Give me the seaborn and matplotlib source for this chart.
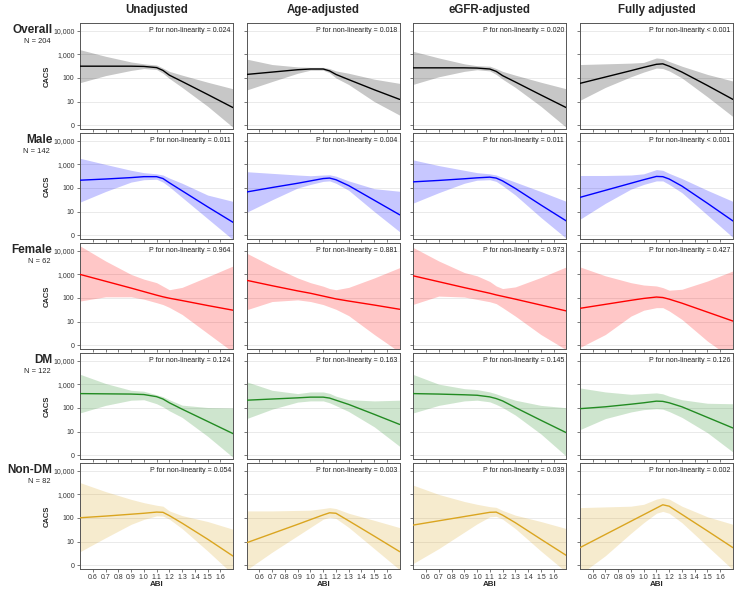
import matplotlib
matplotlib.use("Agg")
import matplotlib.pyplot as plt
import numpy as np
import seaborn as sns

# ABI grid the curves were read at
ABI = [0.5, 0.7, 0.9, 1.0, 1.1, 1.15, 1.2, 1.3, 1.5, 1.7]

MODELS = ["Unadjusted", "Age-adjusted", "eGFR-adjusted", "Fully adjusted"]
GROUPS = ["Overall", "Male", "Female", "DM", "Non-DM"]
GROUP_N = [204, 142, 62, 122, 82]
GROUP_COLORS = ["#000000", "#0000FF", "#FF0000", "#228B22", "#DAA520"]

P_TEXT = [
    ["= 0.024", "= 0.018", "= 0.020", "< 0.001"],
    ["= 0.011", "= 0.004", "= 0.011", "< 0.001"],
    ["= 0.964", "= 0.881", "= 0.973", "= 0.427"],
    ["= 0.124", "= 0.163", "= 0.145", "= 0.126"],
    ["= 0.054", "= 0.003", "= 0.039", "= 0.002"],
]

# y in log10 units of CACS (0 -> "0", 1 -> "10", ...)
Y_TICKS = [0, 1, 2, 3, 4]
Y_LABELS = ["0", "10", "100", "1,000", "10,000"]
X_TICKS = [0.6, 0.7, 0.8, 0.9, 1.0, 1.1, 1.2, 1.3, 1.4, 1.5, 1.6]

# one list per model column: Unadjusted, Age, eGFR, Fully
OVERALL_FIT = [
    [2.50, 2.50, 2.50, 2.49, 2.44, 2.32, 2.12, 1.85, 1.30, 0.74],
    [2.15, 2.25, 2.35, 2.38, 2.38, 2.30, 2.15, 1.93, 1.50, 1.09],
    [2.43, 2.43, 2.43, 2.42, 2.38, 2.28, 2.10, 1.83, 1.28, 0.74],
    [1.77, 2.04, 2.31, 2.45, 2.58, 2.60, 2.50, 2.25, 1.68, 1.09],
]
OVERALL_LO = [
    [1.80, 2.10, 2.32, 2.40, 2.36, 2.20, 1.98, 1.60, 0.80, -0.10],
    [1.49, 1.85, 2.20, 2.33, 2.33, 2.22, 2.00, 1.72, 1.00, 0.42],
    [1.73, 2.05, 2.28, 2.35, 2.30, 2.15, 1.95, 1.60, 0.80, -0.10],
    [1.05, 1.60, 2.05, 2.25, 2.42, 2.40, 2.30, 2.00, 1.20, 0.36],
]
OVERALL_HI = [
    [3.20, 2.92, 2.68, 2.60, 2.55, 2.42, 2.28, 2.12, 1.82, 1.54],
    [2.80, 2.57, 2.47, 2.45, 2.45, 2.40, 2.30, 2.20, 1.95, 1.77],
    [3.13, 2.85, 2.60, 2.52, 2.50, 2.40, 2.28, 2.12, 1.82, 1.54],
    [2.57, 2.60, 2.63, 2.66, 2.85, 2.82, 2.70, 2.50, 2.15, 1.87],
]

MALE_FIT = [
    [2.33, 2.38, 2.44, 2.48, 2.48, 2.40, 2.22, 1.88, 1.20, 0.54],
    [1.83, 2.02, 2.20, 2.30, 2.40, 2.42, 2.35, 2.10, 1.48, 0.86],
    [2.26, 2.32, 2.39, 2.43, 2.46, 2.42, 2.30, 1.98, 1.28, 0.60],
    [1.60, 1.90, 2.20, 2.35, 2.49, 2.48, 2.38, 2.08, 1.35, 0.60],
]
MALE_LO = [
    [1.40, 1.85, 2.25, 2.35, 2.37, 2.25, 2.05, 1.60, 0.70, -0.20],
    [0.97, 1.50, 2.00, 2.15, 2.28, 2.30, 2.20, 1.90, 1.00, 0.14],
    [1.36, 1.80, 2.20, 2.33, 2.35, 2.28, 2.10, 1.70, 0.75, -0.14],
    [0.67, 1.35, 1.95, 2.15, 2.30, 2.30, 2.15, 1.80, 0.85, -0.10],
]
MALE_HI = [
    [3.26, 3.00, 2.75, 2.65, 2.60, 2.55, 2.42, 2.20, 1.70, 1.43],
    [2.69, 2.62, 2.55, 2.52, 2.55, 2.56, 2.50, 2.30, 1.97, 1.86],
    [3.19, 2.95, 2.75, 2.65, 2.60, 2.55, 2.45, 2.25, 1.85, 1.43],
    [2.53, 2.53, 2.55, 2.60, 2.78, 2.75, 2.62, 2.40, 1.90, 1.43],
]

FEMALE_FIT = [
    [3.00, 2.71, 2.42, 2.27, 2.12, 2.05, 1.99, 1.89, 1.68, 1.48],
    [2.75, 2.52, 2.30, 2.20, 2.08, 2.02, 1.96, 1.87, 1.70, 1.52],
    [2.94, 2.69, 2.44, 2.32, 2.20, 2.13, 2.07, 1.95, 1.70, 1.45],
    [1.56, 1.73, 1.90, 1.98, 2.04, 2.02, 1.95, 1.78, 1.40, 1.02],
]
FEMALE_LO = [
    [1.87, 2.05, 2.05, 1.95, 1.80, 1.72, 1.60, 1.30, 0.50, -0.30],
    [1.50, 1.85, 1.92, 1.85, 1.72, 1.62, 1.52, 1.25, 0.45, -0.30],
    [1.73, 2.08, 2.04, 1.94, 1.84, 1.76, 1.59, 1.23, 0.45, -0.20],
    [-0.10, 0.45, 1.23, 1.48, 1.59, 1.59, 1.45, 1.09, 0.17, -0.60],
]
FEMALE_HI = [
    [4.21, 3.57, 3.00, 2.80, 2.65, 2.50, 2.35, 2.45, 2.90, 3.36],
    [3.90, 3.35, 2.85, 2.65, 2.50, 2.40, 2.35, 2.45, 2.85, 3.29],
    [4.14, 3.57, 3.08, 2.94, 2.70, 2.51, 2.40, 2.47, 2.87, 3.32],
    [3.32, 2.94, 2.65, 2.55, 2.51, 2.44, 2.33, 2.37, 2.72, 3.15],
]

DM_FIT = [
    [2.61, 2.60, 2.59, 2.57, 2.48, 2.38, 2.22, 1.95, 1.43, 0.91],
    [2.33, 2.38, 2.43, 2.46, 2.46, 2.42, 2.33, 2.15, 1.73, 1.30],
    [2.61, 2.59, 2.56, 2.54, 2.47, 2.40, 2.30, 2.02, 1.48, 0.95],
    [1.97, 2.05, 2.16, 2.22, 2.29, 2.28, 2.22, 2.05, 1.60, 1.15],
]
DM_LO = [
    [1.79, 2.11, 2.33, 2.35, 2.18, 2.05, 1.88, 1.60, 0.80, -0.10],
    [1.55, 1.95, 2.25, 2.30, 2.30, 2.22, 2.10, 1.85, 1.20, 0.37],
    [1.79, 2.11, 2.30, 2.33, 2.26, 2.15, 2.02, 1.70, 0.90, -0.05],
    [1.08, 1.55, 1.83, 1.93, 1.97, 1.95, 1.85, 1.60, 0.95, 0.13],
]
DM_HI = [
    [3.43, 3.04, 2.75, 2.71, 2.56, 2.48, 2.35, 2.12, 2.02, 2.00],
    [3.11, 2.75, 2.61, 2.68, 2.68, 2.62, 2.50, 2.35, 2.30, 2.33],
    [3.42, 3.01, 2.82, 2.78, 2.68, 2.60, 2.50, 2.33, 2.11, 2.01],
    [2.85, 2.68, 2.58, 2.61, 2.64, 2.60, 2.50, 2.35, 2.20, 2.18],
]

NONDM_FIT = [
    [2.01, 2.08, 2.16, 2.20, 2.25, 2.24, 2.10, 1.78, 1.10, 0.38],
    [0.95, 1.34, 1.73, 1.93, 2.13, 2.22, 2.20, 1.88, 1.23, 0.57],
    [1.70, 1.88, 2.06, 2.15, 2.24, 2.25, 2.12, 1.80, 1.10, 0.41],
    [0.74, 1.30, 1.86, 2.14, 2.42, 2.56, 2.50, 2.15, 1.45, 0.74],
]
NONDM_LO = [
    [0.57, 1.16, 1.73, 1.94, 2.09, 2.08, 1.95, 1.55, 0.60, -0.40],
    [-0.20, 0.55, 1.25, 1.60, 1.95, 2.03, 1.98, 1.60, 0.70, -0.20],
    [0.07, 0.70, 1.40, 1.75, 2.05, 2.07, 1.95, 1.55, 0.60, -0.30],
    [-0.40, 0.40, 1.35, 1.80, 2.20, 2.28, 2.20, 1.80, 0.80, -0.20],
]
NONDM_HI = [
    [3.50, 3.12, 2.79, 2.65, 2.54, 2.50, 2.30, 2.10, 1.85, 1.52],
    [2.30, 2.30, 2.32, 2.33, 2.40, 2.44, 2.40, 2.20, 1.90, 1.59],
    [3.39, 3.00, 2.70, 2.58, 2.48, 2.45, 2.32, 2.12, 1.85, 1.55],
    [2.44, 2.47, 2.50, 2.58, 2.80, 2.86, 2.80, 2.50, 2.05, 1.73],
]

FITS = [OVERALL_FIT, MALE_FIT, FEMALE_FIT, DM_FIT, NONDM_FIT]
LOWS = [OVERALL_LO, MALE_LO, FEMALE_LO, DM_LO, NONDM_LO]
HIGHS = [OVERALL_HI, MALE_HI, FEMALE_HI, DM_HI, NONDM_HI]

sns.set_style("ticks")
plt.rcParams["font.family"] = ["Liberation Sans", "DejaVu Sans"]

fig, axes = plt.subplots(5, 4, figsize=(7.5, 5.91), dpi=100, sharex=True, sharey=True)
fig.subplots_adjust(left=0.1067, right=0.9773, top=0.961, bottom=0.037,
                    wspace=0.088, hspace=0.037)

for r, group in enumerate(GROUPS):
    color = GROUP_COLORS[r]
    for c, model in enumerate(MODELS):
        ax = axes[r, c]
        ax.fill_between(ABI, LOWS[r][c], HIGHS[r][c], color=color, alpha=0.22, lw=0, zorder=2)
        sns.lineplot(x=ABI, y=FITS[r][c], ax=ax, color=color, lw=1.0, zorder=3)

        ax.set_xlim(0.5, 1.7)
        ax.set_ylim(-0.17, 4.33)
        ax.set_yticks(Y_TICKS)
        ax.set_xticks(X_TICKS)
        ax.yaxis.grid(True, color="#E6E6E6", lw=0.6, zorder=0)
        ax.set_axisbelow(True)
        for side in ["top", "right", "bottom", "left"]:
            ax.spines[side].set_color("#555555")
            ax.spines[side].set_linewidth(0.7)
        ax.tick_params(length=2.5, width=0.5, color="#444444", pad=1.5,
                       labelsize=5.0, labelcolor="#333333")
        ax.tick_params(axis="x", pad=1.0)

        ax.text(0.985, 0.965, f"P for non-linearity {P_TEXT[r][c]}",
                transform=ax.transAxes, ha="right", va="top", fontsize=5.0, color="#222222")

        if c == 0:
            ax.set_yticklabels(Y_LABELS)
            ax.set_ylabel("CACS", fontsize=5.5, fontweight="bold", labelpad=2)
        else:
            ax.set_ylabel("")
        if r == len(GROUPS) - 1:
            ax.set_xticklabels([f"{v:.1f}" for v in X_TICKS])
            ax.set_xlabel("ABI", fontsize=5.8, fontweight="bold", labelpad=0)
        else:
            ax.set_xlabel("")
        if r == 0:
            ax.set_title(model, fontsize=8.3, fontweight="bold", pad=7)

    # row label at the left of the first panel
    ax0 = axes[r, 0]
    ax0.text(-0.18, 0.93, group, transform=ax0.transAxes, ha="right", va="center",
             fontsize=8.5, fontweight="bold")
    ax0.text(-0.195, 0.83, f"N = {GROUP_N[r]}", transform=ax0.transAxes, ha="right",
             va="center", fontsize=5.4)

fig.savefig("out.png", dpi=100)
